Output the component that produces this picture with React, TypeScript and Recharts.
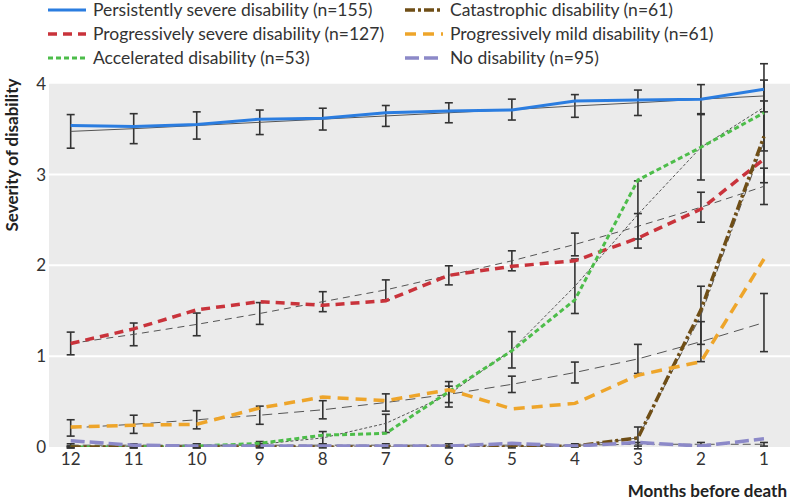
import { LineChart, Line, XAxis, YAxis, ErrorBar, ReferenceArea, ReferenceLine, Label } from "recharts";

const months = [12, 11, 10, 9, 8, 7, 6, 5, 4, 3, 2, 1];

const persistent = [3.54, 3.53, 3.55, 3.61, 3.62, 3.68, 3.7, 3.71, 3.81, 3.82, 3.83, 3.94];
const persistentFit = [3.475, 3.505, 3.54, 3.575, 3.61, 3.645, 3.68, 3.715, 3.755, 3.79, 3.83, 3.865];
const persistentErr = [0.185, 0.165, 0.15, 0.135, 0.12, 0.115, 0.11, 0.115, 0.125, 0.14, 0.16, 0.175];

const progSevere = [1.14, 1.3, 1.51, 1.6, 1.56, 1.61, 1.89, 1.99, 2.05, 2.3, 2.62, 3.17];
const progSevereFit = [1.14, 1.24, 1.35, 1.47, 1.6, 1.73, 1.89, 2.05, 2.23, 2.43, 2.64, 2.87];
const progSevereErr = [0.125, 0.125, 0.125, 0.12, 0.11, 0.11, 0.105, 0.11, 0.125, 0.14, 0.165, 0.2];

const accelerated = [0, 0, 0.01, 0.04, 0.13, 0.15, 0.61, 1.06, 1.62, 2.94, 3.3, 3.68];
const acceleratedFit = [0, 0, 0.01, 0.03, 0.1, 0.26, 0.58, 1.07, 1.77, 2.56, 3.3, 3.74];
const acceleratedErr = [0.01, 0.01, 0.02, 0.03, 0.07, 0.1, 0.14, 0.2, 0.3, 0.37, 0.36, 0.48];

const mild = [0.22, 0.24, 0.25, 0.43, 0.55, 0.51, 0.63, 0.42, 0.48, 0.79, 0.94, 2.07];
const mildFit = [0.21, 0.25, 0.3, 0.35, 0.41, 0.49, 0.58, 0.69, 0.82, 0.97, 1.16, 1.37];
const mildErr = [0.09, 0.1, 0.1, 0.1, 0.1, 0.095, 0.09, 0.09, 0.115, 0.16, 0.22, 0.32];

const catastrophic = [0, 0, 0, 0, 0, 0, 0, 0, 0.01, 0.1, 1.51, 3.42];
const catastrophicFit = [0, 0, 0, 0, 0, 0, 0, 0, 0.01, 0.1, 1.45, 3.36];
const catastrophicErr = [0.01, 0.01, 0.01, 0.01, 0.01, 0.01, 0.01, 0.01, 0.01, 0.12, 0.32, 0.45];

const noDisability = [0.07, 0.02, 0.01, 0.01, 0.01, 0.01, 0.01, 0.04, 0.01, 0.05, 0.01, 0.09];
const noDisabilityFit = [0.02, 0.02, 0.02, 0.02, 0.02, 0.02, 0.02, 0.02, 0.02, 0.03, 0.03, 0.03];
const noDisabilityErr = [0.015, 0.015, 0.015, 0.015, 0.015, 0.015, 0.015, 0.015, 0.015, 0.02, 0.02, 0.02];

const yTicks = [0, 1, 2, 3, 4];

const data = months.map((m, i) => ({
  month: m,
  persistent: persistent[i],
  persistentFit: persistentFit[i],
  persistentErr: persistentErr[i],
  progSevere: progSevere[i],
  progSevereFit: progSevereFit[i],
  progSevereErr: progSevereErr[i],
  accelerated: accelerated[i],
  acceleratedFit: acceleratedFit[i],
  acceleratedErr: acceleratedErr[i],
  mild: mild[i],
  mildFit: mildFit[i],
  mildErr: mildErr[i],
  catastrophic: catastrophic[i],
  catastrophicFit: catastrophicFit[i],
  catastrophicErr: catastrophicErr[i],
  noDisability: noDisability[i],
  noDisabilityFit: noDisabilityFit[i],
  noDisabilityErr: noDisabilityErr[i],
}));

const FONT = "Lato, 'Noto Sans', sans-serif";
const TEXT = "#333";

const SERIES = [
  { key: "persistent", name: "Persistently severe disability (n=155)", color: "#2b7de0", dash: undefined, width: 3, col: 0, row: 0 },
  { key: "progSevere", name: "Progressively severe disability (n=127)", color: "#c9333b", dash: "9 6", width: 3.5, col: 0, row: 1 },
  { key: "accelerated", name: "Accelerated disability (n=53)", color: "#4dbd4a", dash: "5 3", width: 3, col: 0, row: 2 },
  { key: "catastrophic", name: "Catastrophic disability (n=61)", color: "#6f4e16", dash: "10 3 3 3", width: 3.5, col: 1, row: 0 },
  { key: "mild", name: "Progressively mild disability (n=61)", color: "#eea52a", dash: "11 7", width: 3.5, col: 1, row: 1 },
  { key: "noDisability", name: "No disability (n=95)", color: "#8c89c8", dash: "14 5", width: 3.5, col: 1, row: 2 },
];

const FIT_DASH: Record<string, string | undefined> = {
  persistent: undefined,
  progSevere: "7 5",
  accelerated: "3 2",
  catastrophic: "8 3 2 3",
  mild: "10 6",
  noDisability: "8 4",
};

function LegendBlock() {
  const colX = [48, 405];
  return (
    <div style={{ position: "absolute", left: 0, top: 0, width: 790, height: 70 }}>
      {SERIES.map((s) => (
        <div
          key={s.key}
          style={{
            position: "absolute",
            left: colX[s.col],
            top: s.row * 24 - 2.5,
            height: 24,
            display: "flex",
            alignItems: "center",
            fontFamily: FONT,
            fontSize: 17.5,
            color: TEXT,
            whiteSpace: "nowrap",
          }}
        >
          <svg width={40} height={8} style={{ marginRight: 5 }}>
            <line x1={0} y1={4} x2={38} y2={4} stroke={s.color} strokeWidth={s.width} strokeDasharray={s.dash} />
          </svg>
          <span>{s.name}</span>
        </div>
      ))}
    </div>
  );
}

export default function App() {
  return (
    <div style={{ position: "absolute", left: 0, top: 0, width: 790, height: 503, background: "#fff" }}>
      <LineChart width={790} height={503} data={data} margin={{ top: 61, right: 0, bottom: 0, left: 0 }}>
        <XAxis
          dataKey="month"
          type="number"
          reversed
          domain={[0.587, 12.344]}
          allowDataOverflow
          ticks={months}
          height={56}
          tickLine={false}
          axisLine={false}
          tickSize={0}
          tickMargin={6}
          tick={{ fill: TEXT, fontSize: 17, fontFamily: FONT }}
        >
          <Label
            content={() => (
              <text x={787} y={497} textAnchor="end" fontFamily={FONT} fontSize={17} fontWeight="bold" fill="#222">
                Months before death
              </text>
            )}
          />
        </XAxis>
        <YAxis
          type="number"
          domain={[0, 4.25]}
          allowDataOverflow
          ticks={yTicks}
          width={49}
          tickLine={false}
          axisLine={false}
          tickSize={0}
          tickMargin={3}
          tick={{ fill: TEXT, fontSize: 17, fontFamily: FONT }}
        >
          <Label
            content={() => (
              <text
                x={18}
                y={155}
                textAnchor="middle"
                transform="rotate(-90 18 155)"
                fontFamily={FONT}
                fontSize={17}
                fontWeight="bold"
                fill="#222"
              >
                Severity of disability
              </text>
            )}
          />
        </YAxis>
        <ReferenceArea y1={0} y2={4} fill="#ebebeb" fillOpacity={1} stroke="none" />
        {[1, 2, 3].map((v) => (
          <ReferenceLine key={v} y={v} stroke="#fff" strokeWidth={2} />
        ))}
        {SERIES.map((s) => (
          <Line
            key={s.key + "Fit"}
            dataKey={s.key + "Fit"}
            stroke="#555"
            strokeWidth={1}
            strokeDasharray={FIT_DASH[s.key]}
            dot={false}
            isAnimationActive={false}
          >
            <ErrorBar dataKey={s.key + "Err"} direction="y" width={4} stroke="#333" strokeWidth={1.6} isAnimationActive={false} />
          </Line>
        ))}
        {SERIES.map((s) => (
          <Line
            key={s.key}
            dataKey={s.key}
            stroke={s.color}
            strokeWidth={s.width}
            strokeDasharray={s.dash}
            dot={false}
            isAnimationActive={false}
          />
        ))}
      </LineChart>
      <LegendBlock />
    </div>
  );
}
